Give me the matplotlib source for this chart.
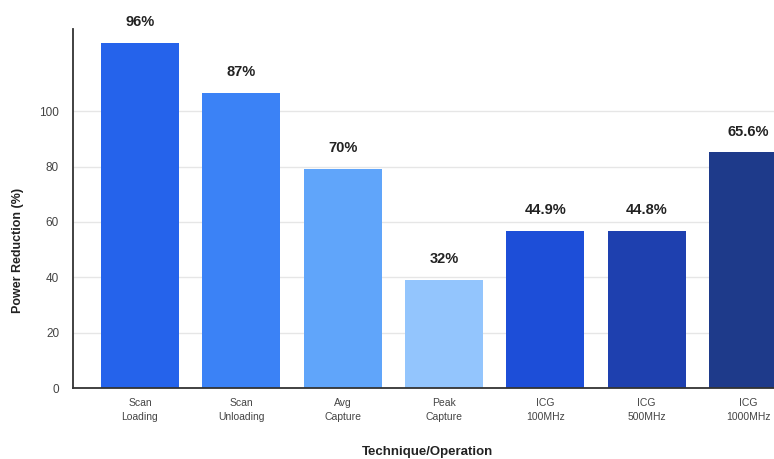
import matplotlib
matplotlib.use("Agg")
import matplotlib.pyplot as plt

categories = ["Scan\nLoading", "Scan\nUnloading", "Avg\nCapture", "Peak\nCapture",
              "ICG\n100MHz", "ICG\n500MHz", "ICG\n1000MHz"]
heights = [124.5, 106.5, 79.1, 39.2, 56.8, 56.8, 85.1]
value_labels = ["96%", "87%", "70%", "32%", "44.9%", "44.8%", "65.6%"]
colors = ["#2563EB", "#3B82F6", "#60A5FA", "#93C5FD", "#1D4ED8", "#1E40AF", "#1E3A8A"]
yticks = [0, 20, 40, 60, 80, 100]

plt.rcParams['font.family'] = ['Liberation Sans', 'DejaVu Sans']

fig = plt.figure(figsize=(7.74, 4.59), dpi=100)
ax = fig.add_axes([73/774, (459-388.3)/459, (815-73)/774, (388.3-29)/459])

x = list(range(len(categories)))
bars = ax.bar(x, heights, width=0.77, color=colors, zorder=3)
ax.set_xlim(-0.66, 6.66)
ax.set_ylim(0, 129.6)
ax.set_yticks(yticks)
ax.set_xticks(x)
ax.set_xticklabels(categories, fontsize=7.5, color="#444444", linespacing=1.5)
ax.tick_params(axis='y', length=0, pad=10, labelsize=8.5, labelcolor="#444444")
ax.tick_params(axis='x', length=0, pad=7)
ax.grid(axis='y', color="#e6e6e6", linewidth=1, zorder=0)
for s in ["top", "right"]:
    ax.spines[s].set_visible(False)
for s in ["left", "bottom"]:
    ax.spines[s].set_color("#333333")
    ax.spines[s].set_linewidth(1.3)
    ax.spines[s].set_zorder(4)

for xi, h, lab in zip(x, heights, value_labels):
    ax.annotate(lab, (xi, h), xytext=(0, 15), textcoords="offset points",
                ha="center", va="center", fontsize=10.5, fontweight="bold", color="#222222")

fig.text(18/774, 208.5/459, "Power Reduction (%)", rotation=90, ha="center", va="center",
         fontsize=9, fontweight="bold", color="#222222")
fig.text(428/774, 1 - 451.7/459, "Technique/Operation", ha="center", va="center",
         fontsize=9.5, fontweight="bold", color="#222222")

fig.savefig("out.png", dpi=100)
